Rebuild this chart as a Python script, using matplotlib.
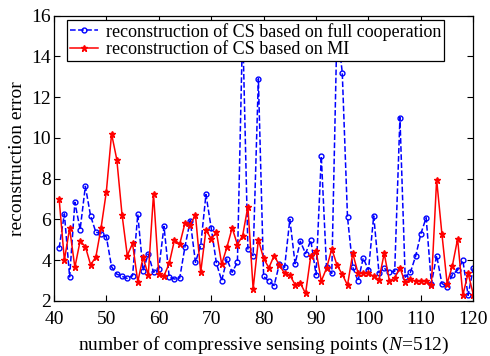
import numpy as np
import matplotlib
matplotlib.use("Agg")
import matplotlib.pyplot as plt

plt.rcParams["font.family"] = ["Liberation Serif", "DejaVu Serif"]
plt.rcParams["mathtext.fontset"] = "custom"
plt.rcParams["mathtext.it"] = "Liberation Serif:italic"
plt.rcParams["mathtext.rm"] = "Liberation Serif"

# number of compressive sensing points
points = list(range(41, 121))

# reconstruction of CS based on full cooperation (blue, dashed)
err_full = [
    4.6, 6.27, 3.17, 6.84, 5.5, 7.62, 6.17, 5.37, 5.3, 5.15,
    3.67, 3.31, 3.2, 3.1, 3.23, 6.24, 3.48, 4.3, 3.4, 3.56,
    5.65, 3.15, 3.07, 3.12, 4.66, 5.94, 3.89, 4.71, 7.22, 5.58,
    3.84, 2.99, 4.05, 3.4, 3.89, 15.5, 4.55, 4.22, 12.9, 3.2,
    2.97, 2.75, 3.8, 3.64, 6.0, 3.82, 4.92, 4.32, 4.97, 3.28,
    9.1, 3.64, 3.35, 15.5, 13.2, 6.1, 3.65, 2.97, 4.1, 3.51,
    6.17, 3.38, 3.6, 3.4, 3.45, 11.0, 3.16, 3.4, 4.2, 5.3,
    6.08, 2.85, 4.22, 2.85, 2.7, 3.28, 3.51, 3.98, 2.27, 3.62,
]

# reconstruction of CS based on MI (red, solid)
err_mi = [
    7.0, 4.0, 5.56, 3.64, 4.94, 4.66, 3.77, 4.15, 5.59, 7.35,
    10.2, 8.93, 6.22, 4.22, 4.82, 2.94, 4.13, 3.27, 7.25, 3.3,
    3.23, 3.84, 4.99, 4.79, 5.81, 5.74, 6.22, 3.4, 5.48, 5.04,
    5.37, 3.8, 4.63, 5.58, 4.76, 5.2, 6.63, 2.58, 4.99, 4.08,
    3.62, 4.22, 3.75, 3.35, 3.25, 2.8, 2.87, 2.36, 4.22, 4.46,
    2.97, 3.6, 4.55, 3.75, 3.3, 2.77, 4.33, 3.37, 3.35, 3.35,
    3.2, 3.04, 4.33, 2.97, 3.13, 3.62, 2.9, 3.05, 2.96, 2.97,
    2.95, 2.79, 7.95, 5.3, 2.85, 3.72, 5.04, 2.28, 3.35, 2.3,
]

xticks = list(range(40, 121, 10))
yticks = list(range(2, 17, 2))

fig = plt.figure(figsize=(4.9, 3.56), dpi=100)
ax = fig.add_axes([0.110, 0.155, 0.856, 0.801])

ax.plot(points, err_full, color="#0000ff", linestyle="--", linewidth=1.1,
        marker="o", markersize=3.5, markerfacecolor="none", markeredgewidth=1.0,
        label="reconstruction of CS based on full cooperation")
ax.plot(points, err_mi, color="#ff0000", linestyle="-", linewidth=1.1,
        marker="*", markersize=4.5,
        label="reconstruction of CS based on MI")

ax.set_xlim(40, 120)
ax.set_ylim(2, 16)
ax.set_xticks(xticks)
ax.set_yticks(yticks)
ax.tick_params(direction="in", top=True, right=True, length=4, width=0.8,
               labelsize=14, pad=2)
ax.tick_params(axis="x", pad=7)
for s in ax.spines.values():
    s.set_linewidth(0.9)

ax.set_xlabel(r"number of compressive sensing points ($\mathit{N}$=512)",
              fontsize=14, labelpad=5)
ax.set_ylabel("reconstruction error", fontsize=14, labelpad=4)

leg = ax.legend(loc="upper left", bbox_to_anchor=(0.031, 0.985),
                borderaxespad=0, fontsize=13, fancybox=False,
                edgecolor="black", framealpha=1, handlelength=1.6,
                handletextpad=0.4, borderpad=0.15, labelspacing=0.05)
leg.get_frame().set_linewidth(0.9)
leg.set_zorder(5)

fig.savefig("out.png", dpi=100)
